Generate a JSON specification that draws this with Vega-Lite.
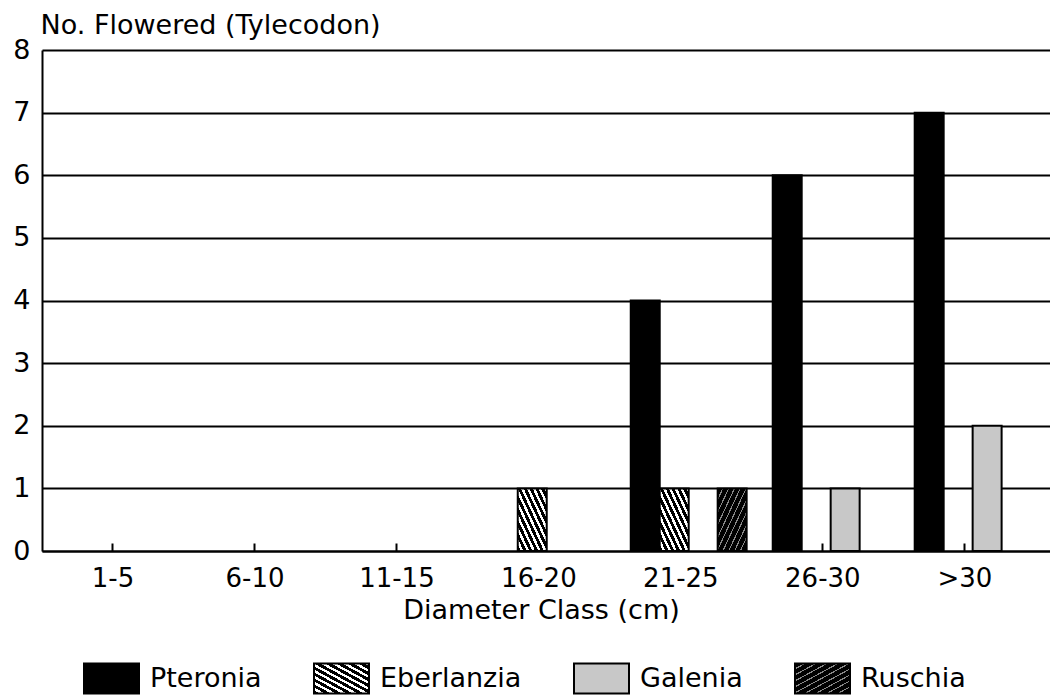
{
  "$schema": "https://vega.github.io/schema/vega-lite/v6.json",
  "width": 1008,
  "height": 501,
  "autosize": "none",
  "padding": {"left": 42, "top": 50, "right": 0, "bottom": 147},
  "background": "white",
  "config": {"font": "DejaVu Sans", "view": {"stroke": null}},
  "data": {
    "values": [
      {"diameter": "16-20", "species": "Eberlanzia", "count": 1},
      {"diameter": "21-25", "species": "Pteronia", "count": 4},
      {"diameter": "21-25", "species": "Eberlanzia", "count": 1},
      {"diameter": "21-25", "species": "Ruschia", "count": 1},
      {"diameter": "26-30", "species": "Pteronia", "count": 6},
      {"diameter": "26-30", "species": "Galenia", "count": 1},
      {"diameter": ">30", "species": "Pteronia", "count": 7},
      {"diameter": ">30", "species": "Galenia", "count": 2}
    ]
  },
  "mark": {
    "type": "bar",
    "strokeWidth": 2,
    "fill": {
      "expr": "(datum.species || datum.value) === 'Pteronia' ? '#000000' : (datum.species || datum.value) === 'Galenia' ? '#c8c8c8' : (datum.species || datum.value) === 'Eberlanzia' ? {gradient: 'linear', x1: 0, y1: 1, x2: 1, y2: 0, stops: [{offset: 0, color: '#000'}, {offset: 0.055, color: '#000'}, {offset: 0.055, color: '#fff'}, {offset: 0.1, color: '#fff'}, {offset: 0.1, color: '#000'}, {offset: 0.155, color: '#000'}, {offset: 0.155, color: '#fff'}, {offset: 0.2, color: '#fff'}, {offset: 0.2, color: '#000'}, {offset: 0.255, color: '#000'}, {offset: 0.255, color: '#fff'}, {offset: 0.3, color: '#fff'}, {offset: 0.3, color: '#000'}, {offset: 0.355, color: '#000'}, {offset: 0.355, color: '#fff'}, {offset: 0.4, color: '#fff'}, {offset: 0.4, color: '#000'}, {offset: 0.455, color: '#000'}, {offset: 0.455, color: '#fff'}, {offset: 0.5, color: '#fff'}, {offset: 0.5, color: '#000'}, {offset: 0.555, color: '#000'}, {offset: 0.555, color: '#fff'}, {offset: 0.6, color: '#fff'}, {offset: 0.6, color: '#000'}, {offset: 0.655, color: '#000'}, {offset: 0.655, color: '#fff'}, {offset: 0.7, color: '#fff'}, {offset: 0.7, color: '#000'}, {offset: 0.755, color: '#000'}, {offset: 0.755, color: '#fff'}, {offset: 0.8, color: '#fff'}, {offset: 0.8, color: '#000'}, {offset: 0.855, color: '#000'}, {offset: 0.855, color: '#fff'}, {offset: 0.9, color: '#fff'}, {offset: 0.9, color: '#000'}, {offset: 0.955, color: '#000'}, {offset: 0.955, color: '#fff'}, {offset: 1, color: '#fff'}]} : {gradient: 'linear', x1: 0, y1: 0, x2: 1, y2: 1, stops: [{offset: 0, color: '#000'}, {offset: 0.08, color: '#000'}, {offset: 0.08, color: '#888'}, {offset: 0.1, color: '#888'}, {offset: 0.1, color: '#000'}, {offset: 0.18, color: '#000'}, {offset: 0.18, color: '#888'}, {offset: 0.2, color: '#888'}, {offset: 0.2, color: '#000'}, {offset: 0.28, color: '#000'}, {offset: 0.28, color: '#888'}, {offset: 0.3, color: '#888'}, {offset: 0.3, color: '#000'}, {offset: 0.38, color: '#000'}, {offset: 0.38, color: '#888'}, {offset: 0.4, color: '#888'}, {offset: 0.4, color: '#000'}, {offset: 0.48, color: '#000'}, {offset: 0.48, color: '#888'}, {offset: 0.5, color: '#888'}, {offset: 0.5, color: '#000'}, {offset: 0.58, color: '#000'}, {offset: 0.58, color: '#888'}, {offset: 0.6, color: '#888'}, {offset: 0.6, color: '#000'}, {offset: 0.68, color: '#000'}, {offset: 0.68, color: '#888'}, {offset: 0.7, color: '#888'}, {offset: 0.7, color: '#000'}, {offset: 0.78, color: '#000'}, {offset: 0.78, color: '#888'}, {offset: 0.8, color: '#888'}, {offset: 0.8, color: '#000'}, {offset: 0.88, color: '#000'}, {offset: 0.88, color: '#888'}, {offset: 0.9, color: '#888'}, {offset: 0.9, color: '#000'}, {offset: 1, color: '#000'}]}"
    }
  },
  "encoding": {
    "x": {
      "field": "diameter",
      "type": "nominal",
      "sort": null,
      "title": "Diameter Class (cm)",
      "scale": {
        "domain": ["1-5", "6-10", "11-15", "16-20", "21-25", "26-30", ">30"],
        "paddingInner": 0,
        "paddingOuter": 0.05,
        "align": 0
      },
      "axis": {
        "labelAngle": 0,
        "labelFontSize": 26,
        "labelColor": "black",
        "tickSize": -8,
        "tickWidth": 2,
        "tickColor": "black",
        "domainColor": "black",
        "domainWidth": 2,
        "labelPadding": 22,
        "titleFontSize": 27,
        "titleFontWeight": "normal",
        "titleColor": "black",
        "titlePadding": 6,
        "titleX": 499
      }
    },
    "xOffset": {
      "field": "species",
      "type": "nominal",
      "scale": {
        "domain": ["Pteronia", "Eberlanzia", "Galenia", "Ruschia"],
        "paddingInner": 0,
        "paddingOuter": 0.45,
        "align": 0.8
      }
    },
    "y": {
      "field": "count",
      "type": "quantitative",
      "scale": {"domain": [0, 8], "nice": false},
      "axis": {
        "values": [0, 1, 2, 3, 4, 5, 6, 7, 8],
        "ticks": false,
        "labelPadding": 12,
        "labelFontSize": 27,
        "labelColor": "black",
        "grid": true,
        "gridColor": "black",
        "gridWidth": 2,
        "gridOpacity": 1,
        "domainColor": "black",
        "domainWidth": 2,
        "title": "No. Flowered (Tylecodon)",
        "titleAngle": 0,
        "titleAlign": "left",
        "titleBaseline": "alphabetic",
        "titleX": -2,
        "titleY": -17,
        "titleFontSize": 27,
        "titleFontWeight": "normal",
        "titleColor": "black"
      }
    },
    "stroke": {
      "field": "species",
      "type": "nominal",
      "scale": {
        "domain": ["Pteronia", "Eberlanzia", "Galenia", "Ruschia"],
        "range": ["#000000", "#000000", "#000000", "#000000"]
      },
      "legend": {
        "orient": "none",
        "legendX": 41,
        "legendY": 600,
        "direction": "horizontal",
        "columns": 4,
        "gridAlign": "none",
        "title": null,
        "padding": 0,
        "symbolType": "M-1,-0.545H1V0.545H-1Z",
        "symbolSize": 3025,
        "symbolStrokeWidth": 2,
        "symbolOpacity": 1,
        "labelFontSize": 27,
        "labelColor": "black",
        "labelOffset": 10,
        "labelLimit": 300,
        "columnPadding": 48
      }
    }
  }
}
